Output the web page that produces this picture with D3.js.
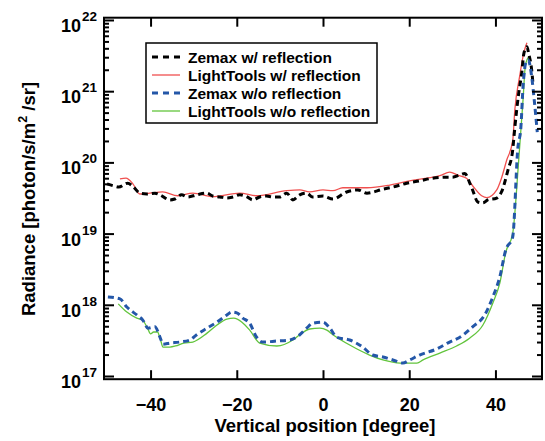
<!DOCTYPE html>
<html>
<head>
<meta charset="utf-8">
<script src="https://cdn.jsdelivr.net/npm/d3@7"></script>
<style>
  body { margin: 0; background: #fff; }
  svg { display: block; }
  text { font-family: "Liberation Sans", Arial, sans-serif; font-weight: bold; fill: #000; }
</style>
</head>
<body>
<svg id="chart" width="545" height="441"></svg>
<script>
// Radiance vs. vertical position, four simulations (degrees, photon/s/m^2/sr)
const zemaxReflDeg = [-50.1,-48.7,-47.4,-45.3,-44.1,-42.5,-40.9,-39.0,-37.8,-35.5,-34.4,-32.8,-31.4,-29.3,-26.9,-25.6,-23.9,-22.3,-20.9,-19.3,-17.6,-16.3,-14.7,-13.1,-11.7,-10.1,-8.4,-7.0,-5.4,-3.8,-2.4,0,2.3,5.5,8.1,10.2,13.9,16.2,19.4,22.4,25.4,28.6,30.0,31.7,32.9,34.0,34.7,35.9,37.1,38.2,40.3,41.4,42.9,44.0,44.5,45.4,46.1,46.6,47.3,47.7,48.4,48.7];
const zemaxReflVal = [5.0e19,4.7e19,4.5e19,5.1e19,4.6e19,3.7e19,3.6e19,3.7e19,3.5e19,2.97e19,3.06e19,3.5e19,3.27e19,3.5e19,3.7e19,3.37e19,3.27e19,3.16e19,3.27e19,3.5e19,3.27e19,2.97e19,3.27e19,3.37e19,3.27e19,3.27e19,3.7e19,2.97e19,3.5e19,3.7e19,3.27e19,3.37e19,3.06e19,3.84e19,4.1e19,3.7e19,4.2e19,4.5e19,5.1e19,5.5e19,6.0e19,6.2e19,6.2e19,6.65e19,7.0e19,5.2e19,4.1e19,2.78e19,2.7e19,2.97e19,3.16e19,3.84e19,7.8e19,1.49e20,3.1e20,9.4e20,1.8e21,3.4e21,4.2e21,3.4e21,2.0e21,1.3e21];

const lightToolsReflDeg = [-47.1,-45.7,-44.1,-42.5,-40.2,-37.2,-33.7,-30.2,-25.6,-19.3,-15.4,-8.4,-5.4,-3.1,0,2.3,4.6,10.2,15.5,20.1,24.1,27.1,29.4,31.3,33.3,34.7,36.8,38.0,40.3,41.4,42.6,44.0,44.5,45.6,46.6,47.3];
const lightToolsReflVal = [5.85e19,6.0e19,5.0e19,3.6e19,3.7e19,3.85e19,3.4e19,3.7e19,3.3e19,3.7e19,3.4e19,4.0e19,4.1e19,3.85e19,4.1e19,4.0e19,4.4e19,4.4e19,4.8e19,5.5e19,6.0e19,6.5e19,7.3e19,6.6e19,6.0e19,4.7e19,3.4e19,3.2e19,4.1e19,6.0e19,1.07e20,2.0e20,5.5e20,1.6e21,3.5e21,4.8e21];

const zemaxNoReflDeg = [-49.9,-47.1,-45.5,-43.2,-41.8,-40.6,-39.0,-37.8,-37.1,-35.5,-33.2,-30.9,-29.3,-26.9,-24.6,-22.3,-21.2,-20.0,-18.6,-17.0,-15.4,-14.0,-10.7,-7.7,-5.4,-3.8,-2.4,0,1.6,3.2,6.2,9.2,11.5,13.9,16.2,18.5,20.1,22.4,26.4,28.9,32.2,34.7,37.5,39.4,41.0,42.4,44.0,45.2,45.9,46.4,47.1,47.6,48.5,49.0,49.7];
const zemaxNoReflVal = [1.29e18,1.21e18,9.3e17,7.2e17,6.1e17,4.7e17,4.9e17,3.5e17,2.8e17,2.9e17,3.0e17,3.2e17,3.8e17,4.7e17,5.7e17,7.2e17,7.9e17,7.7e17,6.5e17,5.5e17,3.5e17,3.0e17,3.1e17,3.2e17,3.8e17,4.7e17,5.5e17,5.7e17,4.7e17,3.5e17,3.2e17,2.55e17,1.97e17,1.85e17,1.68e17,1.52e17,1.68e17,1.97e17,2.4e17,2.9e17,3.65e17,4.9e17,7.2e17,1.29e18,2.45e18,5.9e18,8.95e18,1.6e20,3.1e20,1.15e21,2.57e21,2.74e21,1.44e21,7.5e20,2.67e20];

const lightToolsNoReflDeg = [-47.5,-45.5,-43.2,-41.9,-40.7,-40.0,-39.3,-38.4,-37.8,-37.1,-35.5,-34.2,-32.3,-30.2,-26.9,-24.6,-22.3,-20.7,-18.8,-17.0,-14.7,-10.7,-7.0,-5.4,-3.1,-0.7,0.9,2.3,6.2,10.8,13.9,17.9,21.8,23.2,27.1,31.0,34.0,37.1,39.4,41.0,42.4,44.0,45.4,46.4,46.9,47.3,47.6];
const lightToolsNoReflVal = [1.03e18,7.9e17,6.5e17,6.1e17,4.7e17,3.9e17,4.15e17,4.15e17,3.4e17,2.55e17,2.55e17,2.64e17,2.9e17,3.0e17,4.0e17,5.2e17,6.3e17,6.5e17,5.7e17,4.4e17,2.9e17,2.64e17,3.2e17,3.8e17,4.57e17,4.7e17,4.4e17,3.8e17,2.72e17,1.97e17,1.68e17,1.52e17,1.52e17,1.68e17,2.1e17,2.64e17,3.4e17,5.2e17,1.06e18,2.0e18,5.5e18,1.0e19,1.08e20,7.5e20,2.19e21,2.74e21,3.0e21];

const seriesNames = ["Zemax w/ reflection", "LightTools w/ reflection", "Zemax w/o reflection", "LightTools w/o reflection"];
const seriesColors = ["#000000", "#f0504f", "#2457a8", "#62c43c"];
const seriesDash = ["6,4", null, "6,4", null];
const seriesWidth = [3, 1.3, 3, 1.3];

const xTicks = [-40, -20, 0, 20, 40];
const yExponents = [17, 18, 19, 20, 21, 22];

const svg = d3.select("#chart");
const plotLeft = 104, plotRight = 542, plotTop = 17.7, plotBottom = 379.2;

const x = d3.scaleLinear().domain([-50.8, 50.8]).range([plotLeft, plotRight]);
const y = d3.scaleLog().domain([Math.pow(10, 16.955), Math.pow(10, 22.032)]).range([plotBottom, plotTop]);

const datasets = [
  [zemaxReflDeg, zemaxReflVal],
  [lightToolsReflDeg, lightToolsReflVal],
  [zemaxNoReflDeg, zemaxNoReflVal],
  [lightToolsNoReflDeg, lightToolsNoReflVal]
].map(([d, v]) => d.map((deg, i) => ({ deg, val: v[i] })));

// clip region for the curves
svg.append("defs").append("clipPath").attr("id", "plotClip")
  .append("rect").attr("x", plotLeft).attr("y", plotTop)
  .attr("width", plotRight - plotLeft).attr("height", plotBottom - plotTop);

const line = d3.line().x(d => x(d.deg)).y(d => y(d.val)).curve(d3.curveMonotoneX);

const plot = svg.append("g").attr("clip-path", "url(#plotClip)");
// solid curves first, dashed curves on top
[1, 3, 0, 2].forEach(i => {
  const p = plot.append("path")
    .datum(datasets[i])
    .attr("fill", "none")
    .attr("stroke", seriesColors[i])
    .attr("stroke-width", seriesWidth[i])
    .attr("d", line);
  if (seriesDash[i]) p.attr("stroke-dasharray", seriesDash[i]);
});

// minor log ticks
const minorVals = [];
for (let e = 16; e <= 22; e++) for (let m = 2; m <= 9; m++) {
  const v = m * Math.pow(10, e);
  if (v > y.domain()[0] && v < y.domain()[1]) minorVals.push(v);
}
const majorVals = yExponents.map(e => Math.pow(10, e));

function styleAxis(g) {
  g.select(".domain").remove();
  g.selectAll(".tick line").attr("stroke", "#000").attr("stroke-width", 2);
}

svg.append("g").attr("transform", `translate(${plotLeft},0)`)
  .call(d3.axisLeft(y).tickValues(majorVals).tickSize(-10).tickFormat(""))
  .call(styleAxis);
svg.append("g").attr("transform", `translate(${plotLeft},0)`)
  .call(d3.axisLeft(y).tickValues(minorVals).tickSize(-5).tickFormat(""))
  .call(styleAxis);
svg.append("g").attr("transform", `translate(${plotRight},0)`)
  .call(d3.axisRight(y).tickValues(majorVals).tickSize(-10).tickFormat(""))
  .call(styleAxis);
svg.append("g").attr("transform", `translate(${plotRight},0)`)
  .call(d3.axisRight(y).tickValues(minorVals).tickSize(-5).tickFormat(""))
  .call(styleAxis);

const xAxisG = svg.append("g").attr("transform", `translate(0,${plotBottom})`)
  .call(d3.axisBottom(x).tickValues(xTicks).tickSize(-9).tickPadding(19).tickFormat(d3.format("d")))
  .call(styleAxis);
xAxisG.selectAll(".tick text")
  .attr("font-family", "Liberation Sans, Arial, sans-serif")
  .attr("font-weight", "bold").attr("font-size", 18).attr("fill", "#000");

svg.append("g").attr("transform", `translate(0,${plotTop})`)
  .call(d3.axisTop(x).tickValues(xTicks).tickSize(-9).tickFormat(""))
  .call(styleAxis);

// frame
svg.append("rect").attr("x", plotLeft).attr("y", plotTop)
  .attr("width", plotRight - plotLeft).attr("height", plotBottom - plotTop)
  .attr("fill", "none").attr("stroke", "#000").attr("stroke-width", 2);

// y tick labels: 10^n
yExponents.forEach(e => {
  const t = svg.append("text")
    .attr("x", 97).attr("y", y(Math.pow(10, e)) + 12)
    .attr("text-anchor", "end").attr("font-size", 18);
  t.append("tspan").text("10");
  t.append("tspan").attr("dx", 1).attr("dy", -11).attr("font-size", 13.5).text(e);
});

// axis titles
svg.append("text").attr("x", 325).attr("y", 432).attr("text-anchor", "middle")
  .attr("font-size", 18.5).text("Vertical position [degree]");

const yt = svg.append("text")
  .attr("transform", "translate(35,199) rotate(-90)")
  .attr("text-anchor", "middle").attr("font-size", 18.5);
yt.append("tspan").text("Radiance [photon/s/m");
yt.append("tspan").attr("dy", -8).attr("font-size", 12.5).text("2");
yt.append("tspan").attr("dy", 8).text(" /sr]");

// legend
const lg = svg.append("g");
lg.append("rect").attr("x", 146).attr("y", 43).attr("width", 231).attr("height", 80)
  .attr("fill", "#fff").attr("stroke", "#000").attr("stroke-width", 1.5);
const rowY = [57, 75, 93, 111];
seriesNames.forEach((name, i) => {
  const l = lg.append("line").attr("x1", 152).attr("x2", 180)
    .attr("y1", rowY[i]).attr("y2", rowY[i])
    .attr("stroke", seriesColors[i]).attr("stroke-width", seriesWidth[i]);
  if (seriesDash[i]) l.attr("stroke-dasharray", "6,5");
  lg.append("text").attr("x", 188).attr("y", rowY[i] + 5.5)
    .attr("font-size", 15.5).text(name);
});
</script>
</body>
</html>
